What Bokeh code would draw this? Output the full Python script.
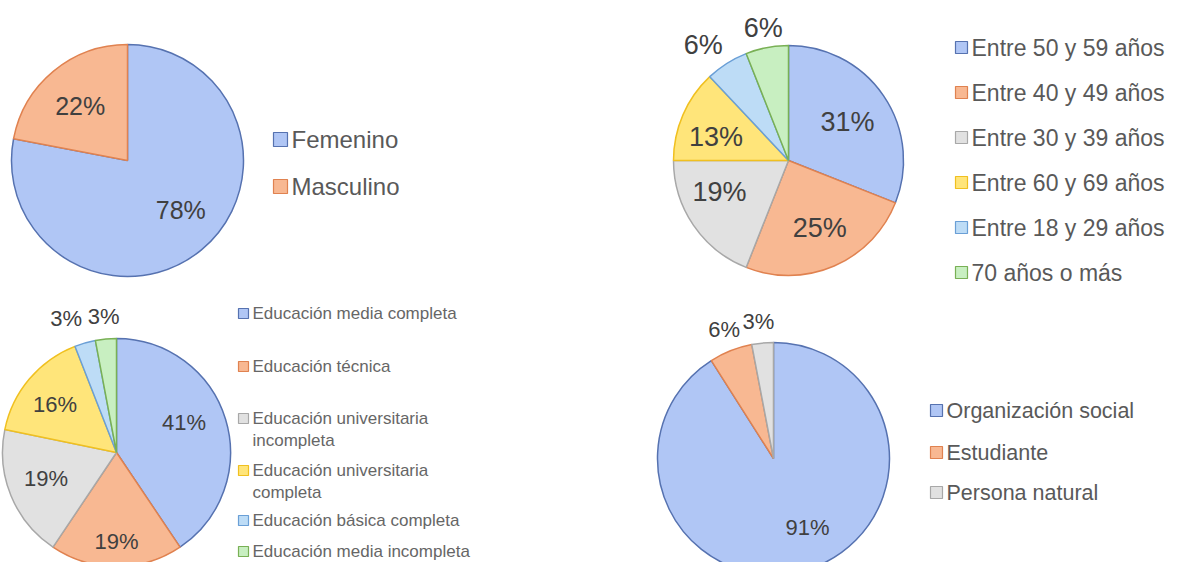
import numpy as np
from bokeh.plotting import figure
from bokeh.models import Range1d
from bokeh.embed import file_html
from bokeh.resources import INLINE
from bokeh.core.properties import value

# ---------------- data ----------------
gender_labels = ["Femenino", "Masculino"]
gender_pct = [78, 22]

age_labels = ["Entre 50 y 59 años", "Entre 40 y 49 años", "Entre 30 y 39 años",
              "Entre 60 y 69 años", "Entre 18 y 29 años", "70 años o más"]
age_pct = [31, 25, 19, 13, 6, 6]

edu_labels = ["Educación media completa", "Educación técnica",
              "Educación universitaria\nincompleta", "Educación universitaria\ncompleta",
              "Educación básica completa", "Educación media incompleta"]
edu_pct = [41, 19, 19, 16, 3, 3]

type_labels = ["Organización social", "Estudiante", "Persona natural"]
type_pct = [91, 6, 3]

# ---------------- styles ----------------
FILLS = ["#b0c6f5", "#f8b892", "#e1e1e1", "#ffe57a", "#bddcf6", "#c8efc1"]
EDGES = ["#5672b0", "#e08250", "#a8a8a8", "#f0c020", "#6a9fd6", "#79b055"]
LABEL_COLOR = "#404040"
LEGEND_COLOR = "#595959"
FONT = "Liberation Sans"

W, H = 1168, 562
p = figure(width=W, height=H, output_backend="svg", toolbar_location=None,
           x_range=Range1d(0, W), y_range=Range1d(0, H), min_border=0)
p.axis.visible = False
p.grid.visible = False
p.outline_line_color = None
p.background_fill_color = "white"


def Y(img_y):
    return H - img_y


def pie(pcts, cx, cy, r, label_r, label_font, dx=None, dy=None):
    vals = np.array(pcts, dtype=float)
    frac = vals / vals.sum()
    cum = np.concatenate([[0], np.cumsum(frac)])
    n = len(vals)
    start = np.pi / 2 - 2 * np.pi * cum[:-1]
    end = np.pi / 2 - 2 * np.pi * cum[1:]
    p.wedge(x=[cx] * n, y=[Y(cy)] * n, radius=r, start_angle=list(start),
            end_angle=list(end), direction="clock",
            fill_color=FILLS[:n], line_color=EDGES[:n], line_width=1.5)
    mid = 2 * np.pi * (cum[:-1] + cum[1:]) / 2
    dx = dx or [0] * n
    dy = dy or [0] * n
    lx = [cx + lr * r * np.sin(m) + ddx for m, lr, ddx in zip(mid, label_r, dx)]
    ly = [Y(cy) + lr * r * np.cos(m) - ddy for m, lr, ddy in zip(mid, label_r, dy)]
    p.text(x=lx, y=ly, text=[f"{v}%" for v in pcts], text_align="center",
           text_baseline="middle", text_color=LABEL_COLOR,
           text_font=value(FONT), text_font_size=label_font)


def legend(labels, sx, ys, font, sq=13, line_h=22, color=LEGEND_COLOR):
    n = len(labels)
    p.scatter(x=[sx] * n, y=[Y(y) for y in ys], marker="square", size=sq,
              fill_color=FILLS[:n], line_color=EDGES[:n], line_width=1.2)
    for lab, y in zip(labels, ys):
        lines = lab.split("\n")
        for k, ln in enumerate(lines):
            p.text(x=[sx + sq / 2 + 4], y=[Y(y + k * line_h)], text=[ln],
                   text_align="left", text_baseline="middle",
                   text_color=color, text_font=value(FONT),
                   text_font_size=font)


# pie 1: gender
pie(gender_pct, 127, 160, 116, [0.64, 0.64], "25px", dx=[6, 0], dy=[-8, 3])
legend(gender_labels, 280, [139, 186], "24px", sq=14)

# pie 2: age
pie(age_pct, 788, 160, 115, [0.62, 0.62, 0.62, 0.64, 1.22, 1.17], "27px",
    dx=[0, 3, -10, -5, -10, 0], dy=[2, 2, -9, 6, 3, 0])
legend(age_labels, 961, [47, 92, 137, 182, 227, 272], "23px", sq=12)

# pie 3: education
pie(edu_pct, 116, 452, 114, [0.62, 0.78, 0.64, 0.66, 1.22, 1.2], "22px",
    dx=[0, 0, -3, -4, -12, 0], dy=[-9, 0, -2, 0, 0, 0])
legend(edu_labels, 243, [313, 366, 418, 470, 520, 551], "17px", sq=10,
       color="#666666")

# pie 4: type
pie(type_pct, 773, 458, 116, [0.62, 1.2, 1.2], "22px", dx=[14, 2, -2], dy=[0, 0, 2])
legend(type_labels, 936, [410, 452, 492], "21.5px", sq=12)

open("out.html", "w").write(file_html(p, INLINE))
